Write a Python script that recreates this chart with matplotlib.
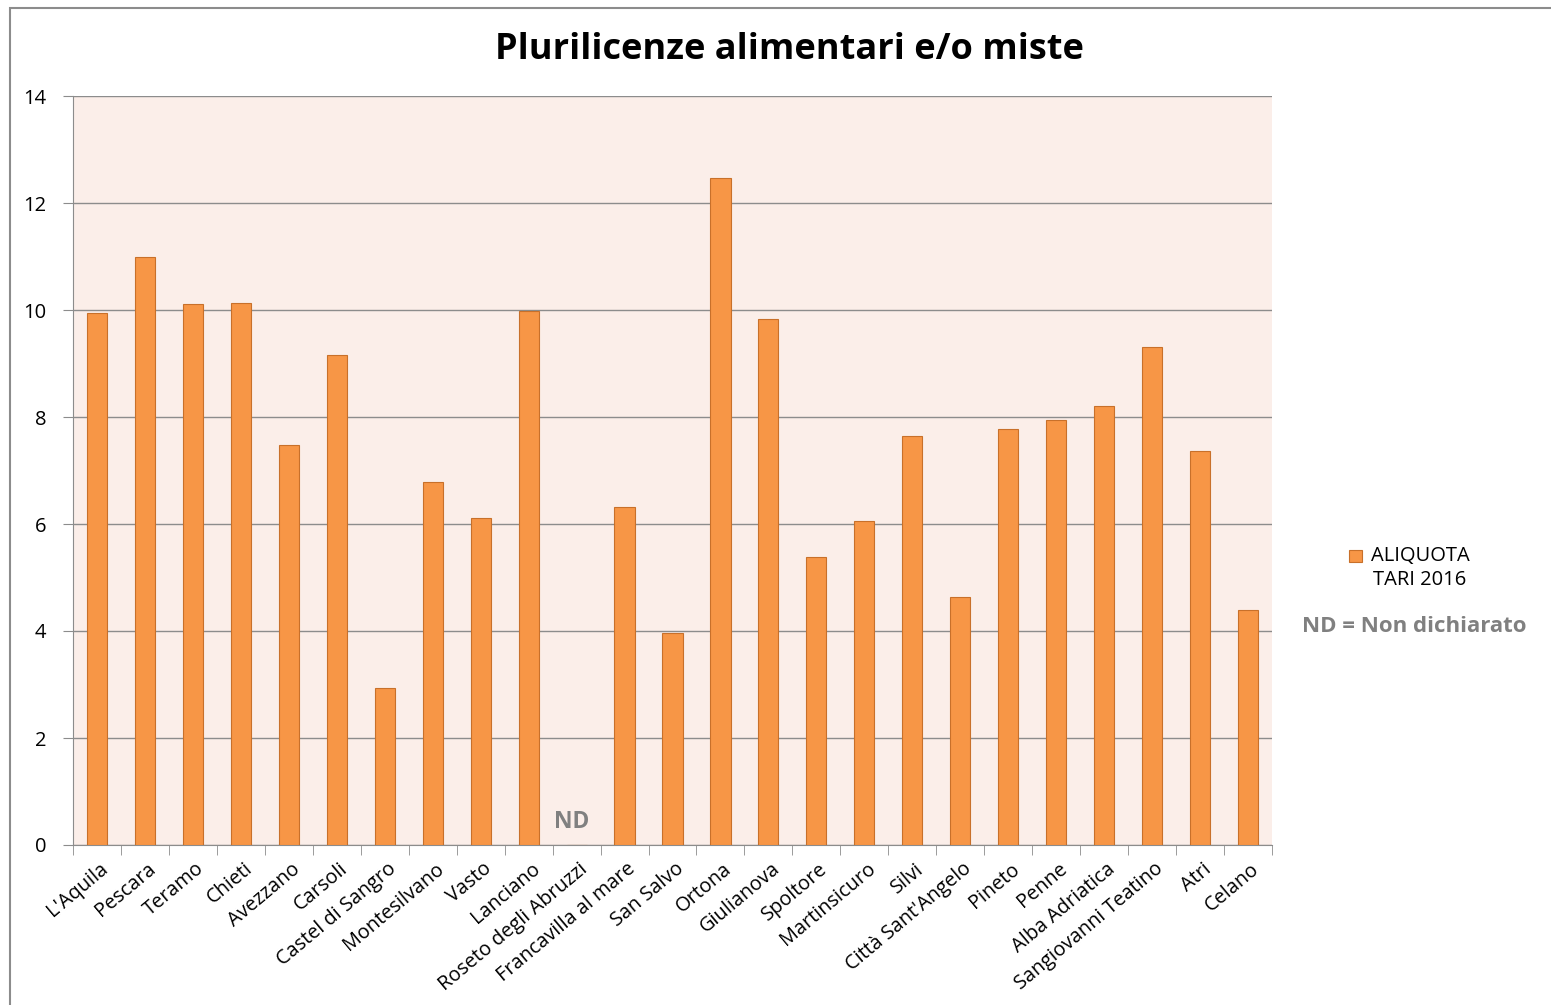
import matplotlib
matplotlib.use('Agg')
import matplotlib.pyplot as plt
import numpy as np
from matplotlib.patches import Rectangle

plt.rcParams['font.family'] = ['Open Sans', 'DejaVu Sans']

# Comuni and TARI 2016 rates (Roseto degli Abruzzi not declared)
comuni = ["L'Aquila", 'Pescara', 'Teramo', 'Chieti', 'Avezzano', 'Carsoli',
          'Castel di Sangro', 'Montesilvano', 'Vasto', 'Lanciano',
          'Roseto degli Abruzzi', 'Francavilla al mare', 'San Salvo', 'Ortona',
          'Giulianova', 'Spoltore', 'Martinsicuro', 'Silvi',
          "Città Sant'Angelo", 'Pineto', 'Penne', 'Alba Adriatica',
          'Sangiovanni Teatino', 'Atri', 'Celano']
aliquota = [9.94, 10.99, 10.11, 10.13, 7.48, 9.16, 2.93, 6.79, 6.11, 9.98,
            np.nan, 6.32, 3.96, 12.47, 9.83, 5.38, 6.06, 7.64, 4.64, 7.78,
            7.94, 8.21, 9.31, 7.36, 4.39]
non_dichiarato = ['Roseto degli Abruzzi']
y_ticks = [0, 2, 4, 6, 8, 10, 12, 14]

W, H = 1551, 1005
fig = plt.figure(figsize=(W / 100, H / 100), dpi=100)
fig.patch.set_facecolor('white')
# outer chart frame
fig.add_artist(Rectangle((10 / W, -0.01), 1.1, 1 - 8 / H + 0.01,
                         transform=fig.transFigure, fill=False,
                         edgecolor='#8c8c8c', linewidth=1.5))

ax = fig.add_axes([73 / W, 1 - 845 / H, (1272 - 73) / W, (845 - 96) / H])
ax.set_facecolor('#FBEEE9')

x = np.arange(len(comuni))
ax.bar(x, np.nan_to_num(aliquota), width=0.42, color='#F79646',
       edgecolor='#C8702A', linewidth=0.8, zorder=3)

for name in non_dichiarato:
    i = comuni.index(name)
    ax.text(i - 0.1, 0.2, 'ND', ha='center', va='bottom', fontsize=16.5,
            fontweight='bold', color='#808080', zorder=4)

ax.set_xlim(-0.5, len(comuni) - 0.5)
ax.set_ylim(0, 14)
ax.set_yticks(y_ticks)
ax.set_yticklabels([str(v) for v in y_ticks], fontsize=14.5)
ax.yaxis.grid(True, color='#8c8c8c', linewidth=1.0, zorder=0)
ax.tick_params(axis='y', length=7, color='#8c8c8c', pad=12)

ax.set_xticks(x + 0.05)
ax.set_xticklabels(comuni, rotation=40, ha='right', rotation_mode='anchor',
                   fontsize=14.3)
ax.tick_params(axis='x', length=0, pad=10)
ax.set_xticks(np.arange(-0.5, len(comuni)), minor=True)
ax.tick_params(axis='x', which='minor', length=7, color='#8c8c8c')

for side in ['top', 'right']:
    ax.spines[side].set_visible(False)
ax.spines['left'].set_color('#8c8c8c')
ax.spines['bottom'].set_color('#8c8c8c')

fig.text(789 / W, 1 - 50 / H, 'Plurilicenze alimentari e/o miste',
         ha='center', va='center', fontsize=26, fontweight='bold')

# legend: orange key plus centred two-line label
fig.add_artist(Rectangle((1349 / W, 1 - 562 / H), 13 / W, 12 / H,
                         transform=fig.transFigure, facecolor='#F79646',
                         edgecolor='#C8702A', linewidth=0.8))
fig.text(1420 / W, 1 - 568 / H, 'ALIQUOTA\nTARI 2016', ha='center',
         va='center', fontsize=14.5, linespacing=1.3, multialignment='center')
fig.text(1414 / W, 1 - 627 / H, 'ND = Non dichiarato', ha='center',
         va='center', fontsize=16, fontweight='bold', color='#808080')

fig.savefig('out.png', dpi=100)
